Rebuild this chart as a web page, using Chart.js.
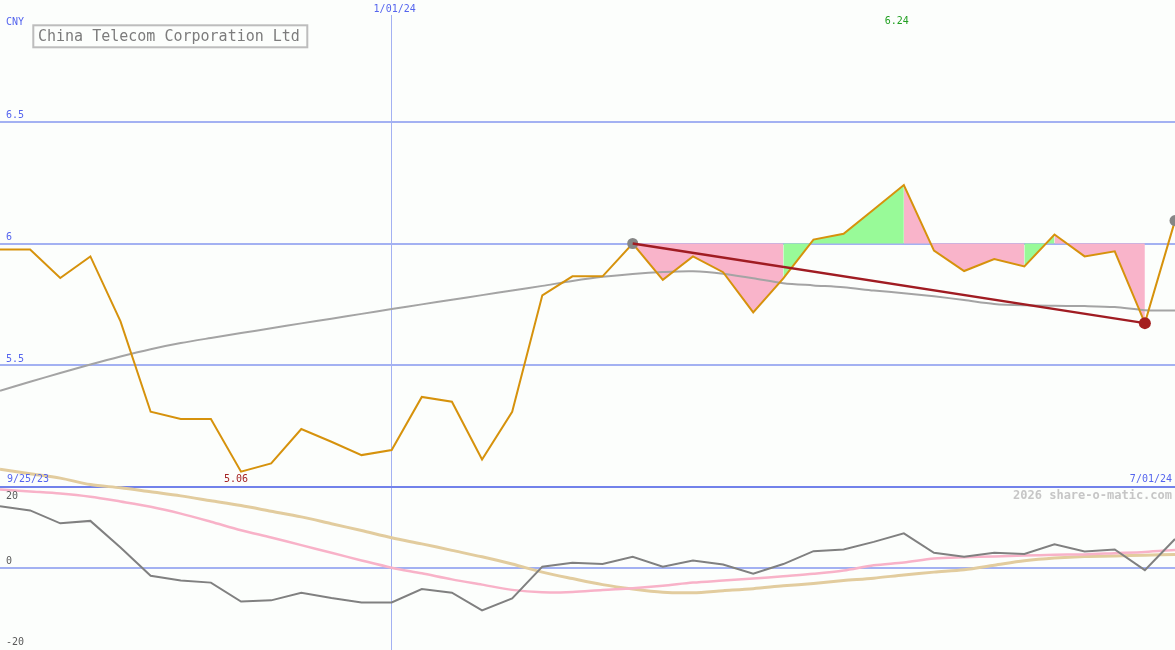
<!DOCTYPE html>
<html>
<head>
<meta charset="utf-8">
<script src="https://cdn.jsdelivr.net/npm/chart.js@4/dist/chart.umd.min.js"></script>
<style>
  html, body { margin: 0; padding: 0; background: #fcfefc; }
  #wrap { position: relative; width: 1175px; height: 650px; }
</style>
</head>
<body>
<div id="wrap"><canvas id="shareChart" width="1175" height="650"></canvas></div>
<script>
// weekly closes, China Telecom (CNY)
const weekIdx = Array.from({length: 40}, (_, i) => i);
const priceCNY = [5.975, 5.975, 5.858, 5.947, 5.68, 5.309, 5.279, 5.279, 5.063, 5.097,
  5.238, 5.186, 5.131, 5.152, 5.37, 5.35, 5.113, 5.309, 5.787, 5.865,
  5.865, 6.0, 5.851, 5.947, 5.882, 5.717, 5.857, 6.016, 6.04, 6.14,
  6.24, 5.971, 5.887, 5.936, 5.906, 6.037, 5.947, 5.968, 5.673, 6.094];
const priceAvg = [5.395, 5.432, 5.468, 5.503, 5.536, 5.566, 5.591, 5.612, 5.632, 5.652,
  5.672, 5.691, 5.711, 5.731, 5.75, 5.769, 5.788, 5.807, 5.826, 5.846,
  5.863, 5.875, 5.883, 5.886, 5.876, 5.857, 5.837, 5.828, 5.82, 5.807,
  5.796, 5.783, 5.768, 5.752, 5.746, 5.744, 5.743, 5.739, 5.726, 5.725];
// lower panel
const oscMain = [15.2, 14.2, 11.0, 11.6, 5.0, -2.0, -3.2, -3.7, -8.4, -8.1,
  -6.2, -7.5, -8.6, -8.6, -5.3, -6.2, -10.6, -7.6, 0.25, 1.2,
  0.9, 2.7, 0.25, 1.8, 0.8, -1.5, 0.9, 4.1, 4.5, 6.4,
  8.5, 3.7, 2.7, 3.7, 3.4, 5.8, 4.0, 4.5, -0.6, 7.1];
const oscSignal = [19.4, 18.9, 18.4, 17.6, 16.4, 15.1, 13.4, 11.4, 9.3, 7.5,
  5.6, 3.7, 1.8, 0.0, -1.4, -2.9, -4.2, -5.5, -6.1, -6.0,
  -5.5, -5.1, -4.5, -3.7, -3.2, -2.7, -2.1, -1.5, -0.7, 0.6,
  1.3, 2.3, 2.6, 2.8, 3.0, 3.2, 3.3, 3.6, 3.9, 4.4];
const oscSlow = [24.4, 23.3, 22.2, 20.6, 19.8, 18.8, 17.8, 16.6, 15.4, 14.0,
  12.6, 10.9, 9.2, 7.4, 5.9, 4.3, 2.7, 0.9, -1.1, -2.7,
  -4.2, -5.3, -6.1, -6.2, -5.7, -5.2, -4.5, -3.9, -3.2, -2.6,
  -1.8, -1.1, -0.5, 0.6, 1.7, 2.4, 2.8, 2.9, 3.1, 3.3];
// shading vs the 6.00 level: 1 = green, -1 = pink, 0 = none (per week interval)
const shadeSign = [0, 0, 0, 0, 0, 0, 0, 0, 0, 0,
  0, 0, 0, 0, 0, 0, 0, 0, 0, 0,
  0, -1, -1, -1, -1, -1, 1, 1, 1, 1,
  -1, -1, -1, -1, 1, -1, -1, -1, 0, 0];
const shadeLevel = 6.0;
const pivotWeeks = [21, 39];
const trendWeeks = [21, 38];
const priceTicks = [5.5, 6, 6.5];
const oscTicks = [-20, 0, 20];
const dateLabels = ['9/25/23', '1/01/24', '7/01/24'];
const dateWeeks = [0, 13, 39];

const BG = '#fcfefc';
const GRID = '#a3b1f2';
const SEP = '#7282ea';
const BLUE = '#5565ee';
const MONO = '"DejaVu Sans Mono", "Liberation Mono", monospace';

const shadeData = weekIdx.map(i => (shadeSign[i] !== 0 || shadeSign[i - 1] ? priceCNY[i] : null));
const trendData = weekIdx.map(i => (trendWeeks.includes(i) ? priceCNY[i] : null));

const background = {
  id: 'background',
  beforeDraw(chart) {
    const {ctx} = chart;
    ctx.save();
    ctx.fillStyle = BG;
    ctx.fillRect(0, 0, chart.width, chart.height);
    ctx.restore();
  }
};

const panelText = {
  id: 'panelText',
  afterDraw(chart) {
    const {ctx, scales: {x, y, y2}} = chart;
    ctx.save();
    ctx.textBaseline = 'middle';
    ctx.font = '10px ' + MONO;

    // price axis labels
    ctx.fillStyle = BLUE;
    ctx.textAlign = 'left';
    ctx.fillText('CNY', 6, 22);
    priceTicks.forEach(v => ctx.fillText(String(v), 6, y.getPixelForValue(v) - 6));

    // oscillator labels
    ctx.fillStyle = '#5a5a5a';
    oscTicks.forEach(v => {
      const py = y2.getPixelForValue(v);
      ctx.fillText(String(v), 6, v === 20 ? py + 9 : py - 6);
    });

    // dates
    ctx.fillStyle = BLUE;
    dateLabels.forEach((lab, k) => {
      const px = x.getPixelForValue(dateWeeks[k]);
      if (k === 0) {
        ctx.textAlign = 'left';
        ctx.fillText(lab, 7, 479);
      } else if (k === dateLabels.length - 1) {
        ctx.textAlign = 'right';
        ctx.fillText(lab, 1172, 479);
      } else {
        ctx.fillStyle = BG;
        ctx.fillRect(px - 24, 0, 48, 15);
        ctx.fillStyle = BLUE;
        ctx.textAlign = 'center';
        ctx.fillText(lab, px + 3, 9);
      }
    });

    // high / low labels
    const lo = Math.min(...priceCNY), hi = Math.max(...priceCNY);
    ctx.textAlign = 'center';
    ctx.fillStyle = '#a42424';
    ctx.fillText(lo.toFixed(2), x.getPixelForValue(priceCNY.indexOf(lo)) - 5, 479);
    ctx.fillStyle = '#22a022';
    ctx.fillText(hi.toFixed(2), x.getPixelForValue(priceCNY.indexOf(hi)) - 7, 21);

    // watermark
    ctx.textAlign = 'right';
    ctx.font = 'bold 12px ' + MONO;
    ctx.fillStyle = '#c6c6c6';
    ctx.fillText('2026 share-o-matic.com', 1172, 496);

    // title box
    ctx.fillStyle = BG;
    ctx.fillRect(33, 25, 274, 22);
    ctx.lineWidth = 2;
    ctx.strokeStyle = '#bdbdbd';
    ctx.strokeRect(33.3, 25.3, 274, 22);
    ctx.font = '15px ' + MONO;
    ctx.textAlign = 'left';
    ctx.fillStyle = '#7c7c7c';
    ctx.fillText('China Telecom Corporation Ltd', 38, 37);
    ctx.restore();
  }
};

new Chart(document.getElementById('shareChart'), {
  type: 'line',
  data: {
    labels: weekIdx,
    datasets: [
      {
        label: 'shade',
        data: shadeData,
        yAxisID: 'y',
        order: 10,
        borderWidth: 0,
        borderColor: 'rgba(0,0,0,0)',
        pointRadius: 0,
        fill: {value: shadeLevel},
        backgroundColor: 'rgba(0,0,0,0)',
        segment: {
          backgroundColor: c => shadeSign[c.p0DataIndex] > 0 ? '#98fa98'
            : shadeSign[c.p0DataIndex] < 0 ? '#f9b4ca' : 'rgba(0,0,0,0)'
        }
      },
      {
        label: 'avg',
        data: priceAvg,
        yAxisID: 'y',
        order: 9,
        borderColor: '#a4a4a4',
        borderWidth: 2,
        pointRadius: 0,
        tension: 0.3
      },
      {
        label: 'slow',
        data: oscSlow,
        yAxisID: 'y2',
        order: 8,
        borderColor: '#e2cc9e',
        borderWidth: 3,
        pointRadius: 0,
        tension: 0.3
      },
      {
        label: 'signal',
        data: oscSignal,
        yAxisID: 'y2',
        order: 7,
        borderColor: '#f8b2c8',
        borderWidth: 2.5,
        pointRadius: 0,
        tension: 0.3
      },
      {
        label: 'osc',
        data: oscMain,
        yAxisID: 'y2',
        order: 6,
        borderColor: '#808080',
        borderWidth: 2,
        pointRadius: 0
      },
      {
        label: 'price',
        data: priceCNY,
        yAxisID: 'y',
        order: 2,
        borderColor: '#d6920c',
        borderWidth: 2,
        pointRadius: c => pivotWeeks.includes(c.dataIndex) ? 5.5 : 0,
        pointBackgroundColor: '#868686',
        pointBorderWidth: 0
      },
      {
        label: 'trend',
        data: trendData,
        yAxisID: 'y',
        order: 1,
        spanGaps: true,
        borderColor: '#a01c22',
        borderWidth: 2.5,
        pointRadius: c => c.dataIndex === trendWeeks[1] ? 6 : 0,
        pointBackgroundColor: '#a41e1e',
        pointBorderWidth: 0
      }
    ]
  },
  options: {
    responsive: false,
    animation: false,
    devicePixelRatio: 1,
    layout: {padding: 0, autoPadding: false},
    plugins: {legend: {display: false}, tooltip: {enabled: false}},
    scales: {
      x: {
        type: 'linear',
        min: 0,
        max: 39,
        afterBuildTicks: s => { s.ticks = [{value: dateWeeks[1]}]; },
        ticks: {display: false},
        border: {display: false},
        grid: {drawTicks: false, color: GRID, lineWidth: 1}
      },
      y: {
        position: 'left',
        min: 4.3306,
        max: 7.0,
        afterBuildTicks: s => { s.ticks = [5, ...priceTicks].map(v => ({value: v})); },
        ticks: {display: false},
        border: {display: false},
        grid: {
          drawTicks: false,
          color: c => c.tick.value === 5 ? SEP : GRID,
          lineWidth: 2
        }
      },
      y2: {
        position: 'right',
        min: -20.4,
        max: 140.7,
        afterBuildTicks: s => { s.ticks = oscTicks.map(v => ({value: v})); },
        ticks: {display: false},
        border: {display: false},
        grid: {
          drawTicks: false,
          color: c => c.tick.value === 0 ? GRID : 'rgba(0,0,0,0)',
          lineWidth: 2
        }
      }
    }
  },
  plugins: [background, panelText]
});
</script>
</body>
</html>
